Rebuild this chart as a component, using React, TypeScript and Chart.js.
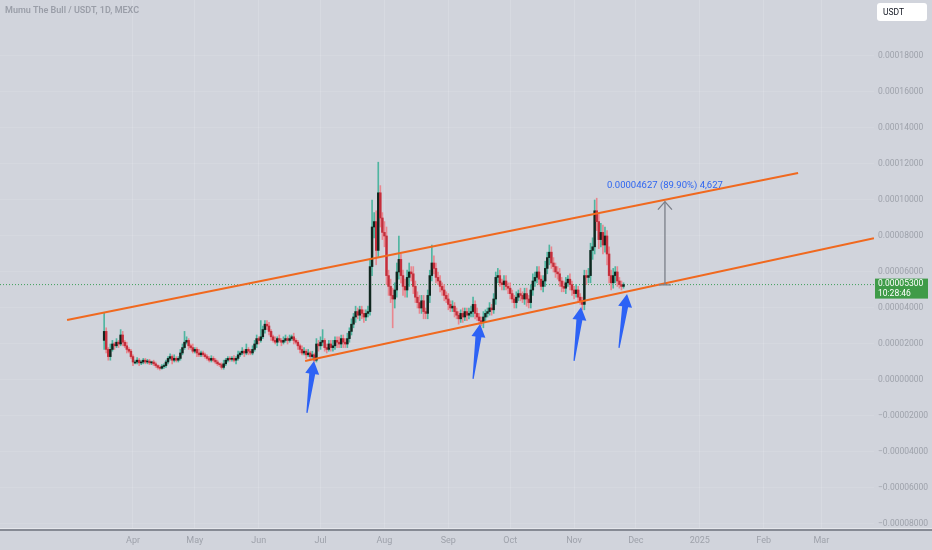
import React, { useEffect, useRef } from 'react';
import { Chart, registerables } from 'chart.js';
Chart.register(...registerables);

// Prices are in units of 1e-6 USDT. Day 0 = 2024-03-18.
const firstOpen = 22;
const closes = [
  27, 17, 13, 17, 20, 19, 21, 20, 25, 21,
  19, 17, 16, 13, 10, 10, 11, 9.5, 10, 11,
  10, 10.5, 9.5, 10, 9, 8, 7, 6.5, 7.5, 8,
  10, 12, 13, 11, 12, 11, 12, 15, 18, 21,
  22, 19, 18, 16, 17, 15, 14, 15, 14, 13,
  12, 11, 12, 11, 10, 9, 8.5, 7, 9, 11,
  12, 11.5, 12, 11, 12, 14, 15, 16, 15, 17,
  16, 15, 17, 20, 23, 22, 24, 28, 31, 30,
  27, 24, 22, 21, 23, 22, 21, 22, 23, 22,
  23, 24, 22, 21, 19, 17, 15, 16, 14, 15,
  13, 14, 11, 20, 19, 21, 22, 18, 17, 20,
  18, 19, 22, 21, 20, 23, 21, 20, 23, 27,
  31, 35, 38, 36, 39, 37, 35, 37, 38, 63,
  85, 88, 72, 104, 90, 82, 80, 58, 52, 47,
  45, 50, 60, 67, 58, 52, 50, 57, 60, 59,
  52, 46, 43, 40, 44, 38, 37, 47, 58, 65,
  62, 57, 55, 52, 50, 47, 45, 42, 40, 41,
  38, 36, 34, 37, 35, 38, 36, 37, 38, 42,
  37, 35, 33, 32, 35, 37, 38, 40, 39, 45,
  57, 58, 54, 53, 55, 52, 51, 48, 45, 43,
  46, 48, 47, 45, 48, 45, 43, 50, 55, 57,
  60, 56, 52, 55, 62, 68, 71, 65, 63, 60,
  59, 55, 52, 51, 54, 56, 53, 50, 48, 50,
  46, 44, 42, 58, 57, 58, 72, 74, 94, 88,
  78, 82, 75, 80, 70, 58, 54, 58, 60, 55,
  53, 52, 53,
];
const wickHi = [
  10, 2, 1, 3, 2, 1, 2, 1, 3, 2,
  1, 2, 1, 1, 1, 1, 1.5, 1, 1, 1,
  1, 1, 1, 0.5, 1, 1, 0.5, 1, 1, 1,
  1, 1, 1.5, 1, 2, 1, 1, 2, 2, 6,
  2, 1, 1, 2, 1, 1, 2, 1, 1, 1,
  1, 1, 1.5, 1, 1, 1, 0.5, 1, 2, 1,
  1, 1, 1, 1.5, 1, 2, 1, 2, 1, 3,
  1, 1, 2, 2, 2, 1, 9, 2, 2, 2,
  2, 1, 1, 2, 1, 2, 1, 2, 2, 1,
  2, 1, 2, 1, 1, 1, 2, 2, 1, 2,
  1, 2, 1, 3, 2, 3, 6, 1, 2, 2,
  2, 3, 2, 2, 3, 2, 2, 2, 3, 2,
  3, 2, 3, 2, 2, 2, 2, 2, 3, 4,
  15, 5, 6, 17, 4, 3, 6, 5, 3, 4,
  4, 4, 5, 13, 3, 3, 4, 4, 5, 3,
  4, 3, 3, 4, 3, 3, 2, 3, 3, 10,
  4, 3, 3, 3, 2, 3, 2, 3, 2, 3,
  2, 2, 2, 2, 3, 2, 2, 3, 3, 4,
  2, 3, 2, 2, 3, 2, 2, 3, 2, 3,
  3, 4, 3, 2, 3, 3, 2, 3, 2, 2,
  3, 2, 3, 2, 3, 3, 2, 3, 4, 3,
  3, 3, 2, 3, 4, 3, 4, 3, 3, 2,
  3, 3, 2, 3, 3, 2, 3, 2, 2, 3,
  2, 2, 2, 3, 3, 4, 4, 5, 6, 7,
  4, 5, 4, 5, 3, 4, 3, 4, 3, 3,
  2, 2, 1,
];
const wickLo = [
  5, 2, 2, 2, 1, 2, 1, 2, 1, 2,
  1, 2, 1, 1, 2, 1, 1, 1.5, 1, 1,
  1, 1, 1, 1, 1, 1, 1, 1, 0.5, 1,
  1, 1, 1, 2, 1, 1, 1, 1, 1, 1,
  1, 2, 1, 1, 1, 2, 1, 1, 1, 1,
  1, 1, 1, 1, 1, 1, 1, 1, 1, 1,
  1, 1, 1, 1, 2, 1, 1, 1, 2, 1,
  2, 1, 1, 1, 2, 2, 1, 1, 2, 2,
  2, 2, 1, 1, 2, 1, 2, 1, 1, 2,
  1, 1, 2, 1, 2, 2, 1, 1, 2, 1,
  2, 1, 1, 1, 3, 2, 2, 2, 2, 1,
  2, 2, 2, 3, 2, 2, 3, 2, 2, 2,
  2, 2, 3, 2, 3, 3, 3, 2, 2, 2,
  5, 6, 8, 4, 5, 4, 6, 5, 5, 4,
  16, 5, 4, 4, 4, 5, 4, 4, 5, 4,
  4, 3, 3, 3, 3, 4, 3, 3, 4, 3,
  3, 3, 2, 3, 3, 3, 2, 3, 2, 2,
  3, 2, 3, 2, 3, 2, 3, 2, 2, 3,
  3, 2, 2, 2, 3, 2, 2, 2, 3, 2,
  3, 3, 2, 3, 3, 2, 3, 3, 2, 3,
  3, 2, 3, 2, 3, 4, 3, 3, 3, 3,
  3, 3, 2, 3, 3, 3, 4, 3, 3, 3,
  3, 3, 3, 2, 3, 2, 3, 3, 3, 2,
  3, 2, 3, 3, 4, 3, 4, 5, 4, 5,
  5, 4, 5, 4, 6, 4, 4, 3, 4, 3,
  2, 2, 1,
];

const monthTicks = [14, 44, 75, 105, 136, 167, 197, 228, 258, 289, 320, 348];
const monthLabels = ['Apr', 'May', 'Jun', 'Jul', 'Aug', 'Sep', 'Oct', 'Nov', 'Dec', '2025', 'Feb', 'Mar'];
const priceTicks = [-80, -60, -40, -20, 0, 20, 40, 60, 80, 100, 120, 140, 160, 180];
const lastPrice = 53;
const countdown = '10:28:46';
const upperChannel = [{ x: -18, y: 33.3 }, { x: 336.7, y: 115 }];
const lowerChannel = [{ x: 97.5, y: 10.6 }, { x: 373.5, y: 78.8 }];
const measureDay = 272.1;
const measureFrom = 52.8;
const measureTo = 99.1;
const measureText = '0.00004627 (89.90%) 4,627';
const arrowTips = [[101.8, 10.6], [182.4, 31.1], [231.4, 40.6], [253.7, 47.8]];
const arrowTails = [[98.4, -18.3], [179.0, 0.6], [228.0, 10.6], [249.8, 17.8]];
const title = 'Mumu The Bull / USDT, 1D, MEXC';
const currency = 'USDT';
const xMin = -50.53;
const xMax = 373.53;
const yMin = -82.78;
const yMax = 211.11;

const BG = '#d1d4dc';
const FONT = 'Roboto, "Liberation Sans", sans-serif';
const TICK = '#9ea2ab';

function fmt(v: number) {
  const s = (Math.abs(v) * 1e-6).toFixed(8);
  return v < 0 ? '\u2212' + s : s;
}

export default function App() {
  const ref = useRef<HTMLCanvasElement | null>(null);
  useEffect(() => {
    const canvas = ref.current;
    if (!canvas) return;
    const opens = closes.map((c, i) => (i === 0 ? firstOpen : closes[i - 1]));
    const up = closes.map((c, i) => c >= opens[i]);
    const bodies = closes.map((c, i) => ({ x: i, y: [opens[i], c] }));
    const wicks = closes.map((c, i) => ({
      x: i,
      y: [Math.min(opens[i], c) - wickLo[i], Math.max(opens[i], c) + wickHi[i]],
    }));

    const overlay = {
      id: 'overlay',
      beforeDraw(chart: any) {
        const { ctx, width, height } = chart;
        ctx.save();
        ctx.fillStyle = BG;
        ctx.fillRect(0, 0, width, height);
        ctx.restore();
      },
      afterDatasetsDraw(chart: any) {
        const { ctx, chartArea: ca } = chart;
        const xs = chart.scales.x;
        const ys = chart.scales.y;
        ctx.save();
        ctx.beginPath();
        ctx.rect(ca.left, ca.top, ca.right - ca.left, ca.bottom - ca.top);
        ctx.clip();
        // measurement arrowhead and base
        const mx = xs.getPixelForValue(measureDay);
        const yt = ys.getPixelForValue(measureTo);
        const yb = ys.getPixelForValue(measureFrom);
        ctx.strokeStyle = '#7b7f88';
        ctx.lineWidth = 1.3;
        ctx.beginPath();
        ctx.moveTo(mx - 7, yt + 8);
        ctx.lineTo(mx, yt);
        ctx.lineTo(mx + 7, yt + 8);
        ctx.moveTo(mx - 6, yb);
        ctx.lineTo(mx + 6, yb);
        ctx.stroke();
        ctx.fillStyle = '#2f66f0';
        ctx.font = '9.5px ' + FONT;
        ctx.textAlign = 'center';
        ctx.textBaseline = 'middle';
        ctx.fillText(measureText, mx, yt - 16);
        // blue arrows
        ctx.fillStyle = '#2d62f5';
        arrowTips.forEach((t, i) => {
          const tx = xs.getPixelForValue(t[0]);
          const ty = ys.getPixelForValue(t[1]);
          const bx = xs.getPixelForValue(arrowTails[i][0]);
          const by = ys.getPixelForValue(arrowTails[i][1]);
          const dx = tx - bx, dy = ty - by;
          const L = Math.hypot(dx, dy);
          const ux = dx / L, uy = dy / L;
          const nx = -uy, ny = ux;
          const h = 13;
          const hx = tx - ux * h, hy = ty - uy * h;
          ctx.beginPath();
          ctx.moveTo(bx + nx * 0.6, by + ny * 0.6);
          ctx.lineTo(hx + nx * 3, hy + ny * 3);
          ctx.lineTo(hx + nx * 7, hy + ny * 7);
          ctx.lineTo(tx, ty);
          ctx.lineTo(hx - nx * 7, hy - ny * 7);
          ctx.lineTo(hx - nx * 3, hy - ny * 3);
          ctx.lineTo(bx - nx * 0.6, by - ny * 0.6);
          ctx.closePath();
          ctx.fill();
        });
        ctx.restore();
      },
      afterDraw(chart: any) {
        const { ctx, chartArea: ca, width } = chart;
        const ys = chart.scales.y;
        ctx.save();
        // title
        ctx.fillStyle = '#9a9ea8';
        ctx.font = '600 9px ' + FONT;
        ctx.textAlign = 'left';
        ctx.textBaseline = 'middle';
        ctx.fillText(title, 5, 11);
        // bottom axis line
        ctx.fillStyle = '#868a94';
        ctx.fillRect(0, ca.bottom, width, 2);
        ctx.fillStyle = '#e4e6eb';
        ctx.fillRect(0, ca.bottom - 1, width, 1);
        // currency box
        ctx.fillStyle = '#ffffff';
        ctx.beginPath();
        (ctx as any).roundRect(877, 3, 50, 18, 3);
        ctx.fill();
        ctx.fillStyle = '#131722';
        ctx.font = '8.5px ' + FONT;
        ctx.fillText(currency, 883, 12.5);
        // last price label
        const py = ys.getPixelForValue(lastPrice);
        ctx.fillStyle = '#3f9b48';
        ctx.fillRect(ca.right + 1, py - 6, 53, 20);
        ctx.fillStyle = '#ffffff';
        ctx.font = '8.5px ' + FONT;
        ctx.fillText(fmt(lastPrice), ca.right + 4, py - 0.5);
        ctx.fillText(countdown, ca.right + 4, py + 9);
        ctx.restore();
      },
    };

    const chart = new Chart(canvas, {
      type: 'bar',
      data: {
        datasets: [
          {
            type: 'line',
            data: [{ x: xMin, y: lastPrice }, { x: xMax, y: lastPrice }],
            borderColor: '#3e9f5a',
            borderWidth: 1,
            borderDash: [1, 2],
            pointRadius: 0,
            order: 5,
          } as any,
          {
            type: 'bar',
            data: wicks as any,
            backgroundColor: up.map((u) => (u ? '#4fb5a0' : '#e9878f')),
            barThickness: 1,
            grouped: false,
            order: 4,
          },
          {
            type: 'bar',
            data: bodies as any,
            backgroundColor: up.map((u) => (u ? '#10271f' : '#c52e3b')),
            barThickness: 1.8,
            minBarLength: 1,
            grouped: false,
            order: 3,
          },
          {
            type: 'line',
            data: upperChannel,
            borderColor: '#f0691f',
            borderWidth: 2,
            pointRadius: 0,
            order: 1,
          } as any,
          {
            type: 'line',
            data: lowerChannel,
            borderColor: '#f0691f',
            borderWidth: 2,
            pointRadius: 0,
            order: 1,
          } as any,
          {
            type: 'line',
            data: [{ x: measureDay, y: measureFrom }, { x: measureDay, y: measureTo }],
            borderColor: '#7b7f88',
            borderWidth: 1.3,
            pointRadius: 0,
            order: 0,
          } as any,
        ],
      },
      options: {
        responsive: false,
        animation: false,
        devicePixelRatio: 1,
        layout: { padding: 0 },
        plugins: { legend: { display: false }, tooltip: { enabled: false }, title: { display: false } },
        scales: {
          x: {
            type: 'linear',
            min: xMin,
            max: xMax,
            offset: false,
            position: 'bottom',
            afterFit: (s: any) => { s.height = 21; s.paddingLeft = 0; s.paddingRight = 0; },
            afterBuildTicks: (s: any) => { s.ticks = monthTicks.map((v) => ({ value: v })); },
            grid: { color: 'rgba(255,255,255,0.14)', drawTicks: false, offset: false },
            border: { display: false },
            ticks: {
              color: TICK,
              font: { family: FONT, size: 9 },
              padding: 6,
              maxRotation: 0,
              autoSkip: false,
              callback: (v: any) => {
                const i = monthTicks.indexOf(Number(v));
                return i >= 0 ? monthLabels[i] : '';
              },
            },
          },
          y: {
            type: 'linear',
            position: 'right',
            min: yMin,
            max: yMax,
            afterFit: (s: any) => { s.width = 58; s.paddingTop = 0; s.paddingBottom = 0; },
            afterBuildTicks: (s: any) => { s.ticks = priceTicks.map((v) => ({ value: v })); },
            grid: { color: 'rgba(255,255,255,0.10)', drawTicks: false },
            border: { display: false },
            ticks: {
              color: TICK,
              font: { family: FONT, size: 8.5 },
              padding: 4,
              callback: (v: any) => fmt(Number(v)),
            },
          },
        },
      },
      plugins: [overlay],
    });
    return () => chart.destroy();
  }, []);

  return (
    <div style={{ position: 'fixed', left: 0, top: 0, width: 932, height: 550, background: BG }}>
      <canvas ref={ref} width={932} height={550} style={{ width: 932, height: 550, display: 'block' }} />
    </div>
  );
}
